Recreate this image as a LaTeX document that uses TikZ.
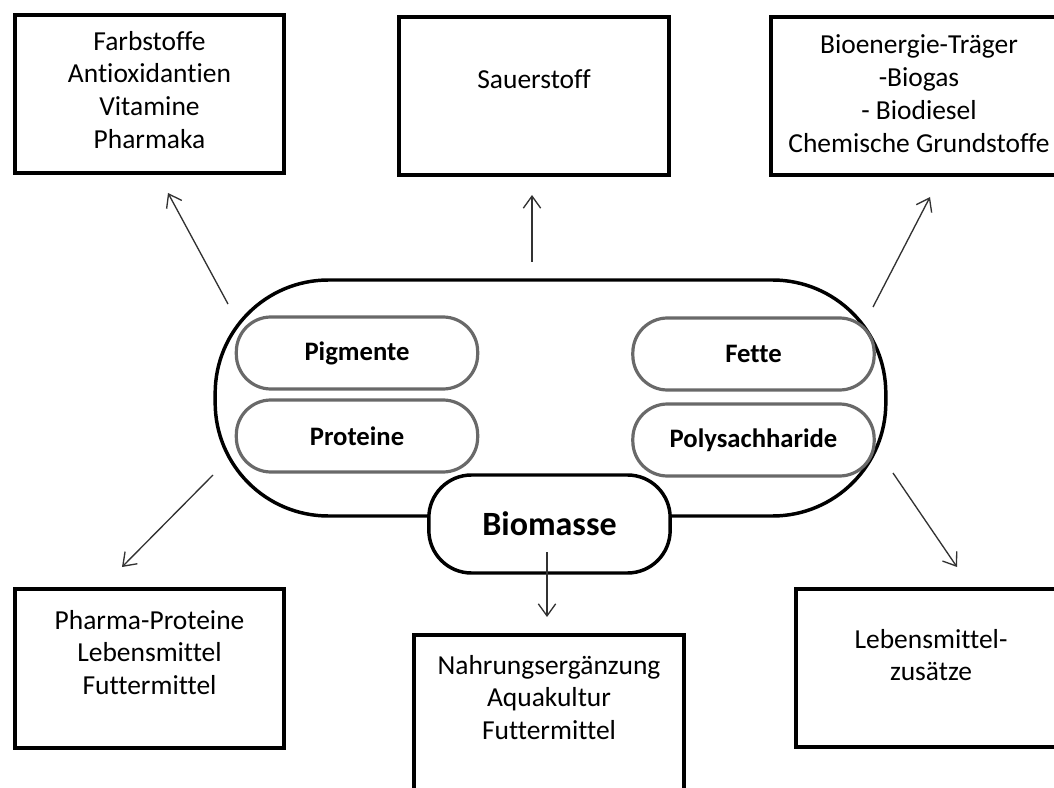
\documentclass[tikz,border=0pt]{standalone}
\usepackage{fontspec}
\setmainfont{Carlito}[Ligatures={NoCommon,NoContextual}]
\usetikzlibrary{positioning,arrows.meta}
\definecolor{PillGrey}{RGB}{105,105,105}
\definecolor{ArrowGrey}{RGB}{50,50,50}
\tikzset{
  flow/.style={-{Straight Barb[length=9pt,width=13pt]},line width=1pt,draw=ArrowGrey},
  box/.style={draw,line width=3pt,minimum width=202pt,minimum height=119pt},
  boxtext/.style={align=center,inner sep=0pt,font=\fontsize{20.6}{24.6}\selectfont},
  part/.style={draw=PillGrey,line width=2.4pt,rounded corners=26pt,
    minimum width=181pt,minimum height=54pt,font=\bfseries\fontsize{20}{24}\selectfont},
  cell/.style={draw,line width=2.6pt,rounded corners=85pt,
    minimum width=503pt,minimum height=177pt},
  core/.style={draw,fill=white,line width=2.6pt,rounded corners=32pt,
    minimum width=181pt,minimum height=73.5pt,font=\bfseries\fontsize{25.5}{30}\selectfont}
}

\begin{document}
\begin{tikzpicture}[x=0.75pt,y=-0.75pt]
  \useasboundingbox (0,0) rectangle (1054,788);
  \clip (0,0) rectangle (1054,788);
  % product boxes
  \node[box] (dyes) at (149.5,94) {};
  \node[box] (oxygen) at (534,96) {};
  \node[box,minimum width=222pt] (energy) at (919,96) {};
  \node[box] (food) at (149.5,668.5) {};
  \node[box] (suppl) at (549,714) {};
  \node[box] (additive) at (931,668) {};
  \node[boxtext,below=13.5pt of dyes.north] (dyestext) {Farbstoffe\\Antioxidantien\\Vitamine\\Pharmaka};
  \node[boxtext,below=41pt of oxygen.north] (oxygentext) {Sauerstoff};
  \node[boxtext,below=15pt of energy.north] (energytext) {Bioenergie-Träger\\-Biogas\\- Biodiesel\\Chemische Grundstoffe};
  \node[boxtext,below=17pt of food.north] (foodtext) {Pharma-Proteine\\Lebensmittel\\Futtermittel};
  \node[boxtext,below=16.5pt of suppl.north] (suppltext) {Nahrungsergänzung\\Aquakultur\\Futtermittel};
  \node[boxtext,below=31.5pt of additive.north] (additivetext) {Lebensmittel-\\zusätze};
  % the cell and its parts
  \node[cell] (cell) at (550.5,398) {};
  \node[part] (pigment) at (357,353) {Pigmente};
  \node[part] (protein) at (357,436) {Proteine};
  \node[part] (fat) at (753.5,354) {Fette};
  \node[part] (sugar) at (753.5,440) {Polysachharide};
  \node[core] (biomass) at (549.5,524) {Biomasse};
  % arrows
  \coordinate (dyesS) at (228,304);   \coordinate (dyesE) at (168,193);
  \coordinate (oxyS) at (532,262);    \coordinate (oxyE) at (532,195);
  \coordinate (energyS) at (873,307); \coordinate (energyE) at (930,197);
  \coordinate (foodS) at (213,475);   \coordinate (foodE) at (122,567);
  \coordinate (supplS) at (547,552);  \coordinate (supplE) at (547,617);
  \coordinate (addS) at (893,473);    \coordinate (addE) at (957,567);
  \draw[flow] (dyesS) -- (dyesE);
  \draw[flow] (oxyS) -- (oxyE);
  \draw[flow] (energyS) -- (energyE);
  \draw[flow] (foodS) -- (foodE);
  \draw[flow] (supplS) -- (supplE);
  \draw[flow] (addS) -- (addE);
\end{tikzpicture}
\end{document}
